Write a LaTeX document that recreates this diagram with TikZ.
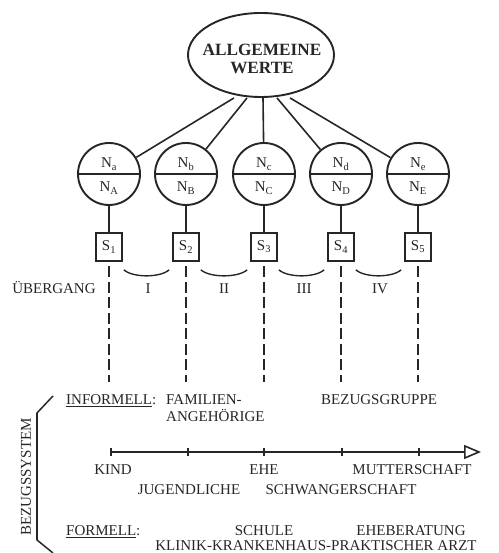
\documentclass[tikz,border=0pt]{standalone}
\usepackage{fontspec}
\setmainfont{Liberation Serif}
\usetikzlibrary{shapes.geometric,arrows.meta}
\begin{document}
\begin{tikzpicture}[x=1pt,y=1pt,
  every node/.style={text=black!85, font=\fontsize{15}{17}\selectfont, inner sep=0pt},
  norm/.style={circle, draw=black!85, line width=1.9pt, minimum size=62pt},
  sbox/.style={draw=black!85, line width=1.7pt, minimum width=26pt, minimum height=28pt},
  link/.style={draw=black!85, line width=1.6pt},
  guide/.style={draw=black!85, line width=1.3pt, dash pattern=on 11pt off 4.5pt, dash phase=11pt},
  brace/.style={draw=black!85, line width=1.5pt},
  lbl/.style={anchor=base},
  lblw/.style={anchor=base west},
]
\useasboundingbox (0,0) rectangle (498,553);

% top value node
\node[ellipse, draw=black!85, line width=1.9pt, minimum width=146pt, minimum height=84pt] (E) at (261,498) {};
\node[align=center, font=\bfseries\fontsize{17.2}{18}\selectfont] (Etext) at (262,494)
      {ALLGEMEINE\\WERTE};

% norm circles, status boxes and dashed guides
\foreach \i/\x/\lo/\up in {1/109/a/A, 2/186/b/B, 3/264/c/C, 4/341/d/D, 5/418/e/E}{
  \node[norm] (c\i) at (\x,379) {};
  \draw[link] (c\i.west) -- (c\i.east);
  \node[lbl] (nl\i) at (\x,385) {N\textsubscript{\lo}};
  \node[lbl] (nu\i) at (\x,361) {N\textsubscript{\up}};
  \node[sbox] (s\i) at (\x,306) {S\textsubscript{\i}};
  \draw[link] (c\i) -- (s\i);
  \coordinate (d\i) at (\x,171);
  \draw[guide] (s\i) -- (d\i);
}

% connectors from the value node
\draw[link] ([xshift=-27pt]E.south) -- (c1);
\draw[link] ([xshift=-14pt]E.south) -- (c2);
\draw[link] ([xshift=2pt]E.south) -- (c3);
\draw[link] ([xshift=16pt]E.south) -- (c4);
\draw[link] ([xshift=29pt]E.south) -- (c5);

% transitions between status boxes
\foreach \a/\b in {1/2, 2/3, 3/4, 4/5}{
  \draw[link, line width=1.4pt] ([shift={(1pt,-8pt)}]s\a.south east)
    .. controls +(9,-8) and +(-9,-8) .. ([shift={(-3pt,-8pt)}]s\b.south west);
}
\node[lbl] (ueb) at (54,259) {ÜBERGANG};
\node[lbl] (r1) at (148,259) {I};
\node[lbl] (r2) at (224,259) {II};
\node[lbl] (r3) at (304,259) {III};
\node[lbl] (r4) at (380,259) {IV};

% informal reference system
\node[lblw] (inf) at (66,148) {\underline{INFORMELL}:};
\node[lblw] (fam1) at (166,148) {FAMILIEN-};
\node[lblw] (fam2) at (166,131) {ANGEHÖRIGE};
\node[lblw] (bzg) at (321,148) {BEZUGSGRUPPE};

% life course axis
\coordinate (t0) at (111,101);
\coordinate (t1) at (188,101);
\coordinate (t2) at (264,101);
\coordinate (t3) at (342,101);
\coordinate (t4) at (419,101);
\coordinate (tend) at (481,101);
\draw[link, -{Triangle[open, length=17pt, width=14pt]}] (t0) -- (tend);
\foreach \t in {t0,t1,t2,t3,t4}{
  \draw[link, line width=1.3pt] ([yshift=4pt]\t) -- ([yshift=-4pt]\t);
}
\node[lbl] (kind) at (113,78) {KIND};
\node[lbl] (ehe) at (264,78) {EHE};
\node[lbl] (mut) at (412,78) {MUTTERSCHAFT};
\node[lbl] (jug) at (189,58) {JUGENDLICHE};
\node[lbl] (schw) at (341,58) {SCHWANGERSCHAFT};

% formal reference system
\node[lblw] (form) at (66,17) {\underline{FORMELL}:};
\node[lbl] (schule) at (264,17) {SCHULE};
\node[lbl] (eheb) at (411,17) {EHEBERATUNG};
\node[lbl] (klinik) at (316,2.8) {KLINIK-KRANKENHAUS-PRAKTISCHER ARZT};

% bracket and its label
\coordinate (b0) at (53,157);
\coordinate (b1) at (37,140);
\coordinate (b2) at (37,13);
\coordinate (b3) at (53,0);
\draw[brace, line join=miter] (b0) -- (b1) -- (b2) -- (b3);
\draw[draw=black!85, line width=2.6pt] (b1) -- (b2);
\node[rotate=90] (bzs) at (26,76) {BEZUGSSYSTEM};
\end{tikzpicture}
\end{document}
